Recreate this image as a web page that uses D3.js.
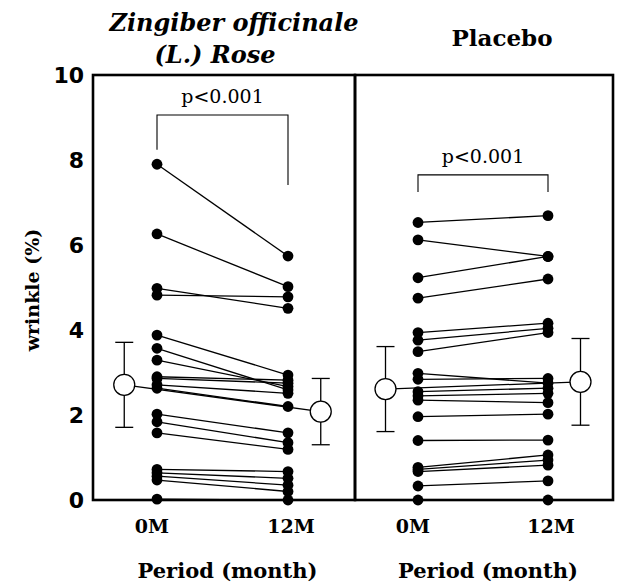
<!DOCTYPE html>
<html>
<head>
<meta charset="utf-8">
<script src="https://cdn.jsdelivr.net/npm/d3@7"></script>
<style>
  body { margin: 0; background: #fff; }
  svg text { fill: #000; }
</style>
</head>
<body>
<svg id="chart" width="617" height="587"></svg>
<script>
// values (wrinkle %)
var periods = ["0M", "12M"];
var groups = ["Zingiber officinale", "Placebo"];

var zingiber0M  = [7.9, 6.26, 4.98, 4.82, 3.88, 3.57, 3.29, 2.9, 2.86, 2.71, 2.63, 2.02, 1.84, 1.58, 0.72, 0.64, 0.56, 0.47, 0.02];
var zingiber12M = [5.74, 5.02, 4.51, 4.78, 2.94, 2.59, 2.67, 2.82, 2.75, 2.51, 2.2, 1.58, 1.35, 1.19, 0.67, 0.51, 0.35, 0.2, 0];

var placebo0M  = [6.53, 6.12, 5.23, 4.75, 3.94, 3.76, 3.49, 2.98, 2.84, 2.55, 2.45, 2.35, 1.96, 1.4, 0.77, 0.72, 0.67, 0.33, 0];
var placebo12M = [6.69, 5.73, 5.73, 5.2, 4.16, 4.04, 3.94, 2.75, 2.86, 2.63, 2.51, 2.29, 2.02, 1.41, 1.06, 0.94, 0.82, 0.45, 0];

// mean and SD per group, [0M, 12M]
var zingiberMean = [2.71, 2.08];
var zingiberSD   = [1.0, 0.78];
var placeboMean  = [2.61, 2.78];
var placeboSD    = [1.0, 1.02];

var yTicks = [0, 2, 4, 6, 8, 10];
var pLabel = "p<0.001";
// bracket levels [left leg end, right leg end, top]
var zingiberBracket = [8.24, 7.41, 9.06];
var placeboBracket  = [7.25, 7.25, 7.65];

var svg = d3.select("#chart");
var top_ = 75, bottom = 500;
var serif = "DejaVu Serif";

var y = d3.scaleLinear().domain([0, 10]).range([bottom, top_]);

var panels = [
  { pre: zingiber0M, post: zingiber12M, mean: zingiberMean, sd: zingiberSD,
    bracket: zingiberBracket, frame: [93, 355], x: d3.scaleLinear().domain([0, 1]).range([157, 288]) },
  { pre: placebo0M, post: placebo12M, mean: placeboMean, sd: placeboSD,
    bracket: placeboBracket, frame: [355, 613], x: d3.scaleLinear().domain([0, 1]).range([418, 548]) }
];

var meanOffset = 0.25; // means sit outside the point columns

panels.forEach(function(p) {
  var g = svg.append("g");
  var x = p.x;
  var pairs = p.pre.map(function(v, i) { return [v, p.post[i]]; });

  // frame
  g.append("rect")
    .attr("x", p.frame[0]).attr("y", top_)
    .attr("width", p.frame[1] - p.frame[0]).attr("height", bottom - top_)
    .attr("fill", "none").attr("stroke", "#000").attr("stroke-width", 2.6);

  // subject lines
  g.selectAll("line.pair").data(pairs).enter().append("line")
    .attr("x1", x(0)).attr("x2", x(1))
    .attr("y1", function(d) { return y(d[0]); })
    .attr("y2", function(d) { return y(d[1]); })
    .attr("stroke", "#000").attr("stroke-width", 1.3);

  // mean line
  g.append("line")
    .attr("x1", x(-meanOffset)).attr("x2", x(1 + meanOffset))
    .attr("y1", y(p.mean[0])).attr("y2", y(p.mean[1]))
    .attr("stroke", "#000").attr("stroke-width", 1.3);

  // error bars
  p.mean.forEach(function(m, i) {
    var cx = x(i === 0 ? -meanOffset : 1 + meanOffset);
    var eb = g.append("g").attr("stroke", "#000").attr("stroke-width", 1.3);
    eb.append("line").attr("x1", cx).attr("x2", cx)
      .attr("y1", y(m - p.sd[i])).attr("y2", y(m + p.sd[i]));
    [m - p.sd[i], m + p.sd[i]].forEach(function(v) {
      eb.append("line").attr("x1", cx - 9).attr("x2", cx + 9)
        .attr("y1", y(v)).attr("y2", y(v));
    });
  });

  // dots
  [p.pre, p.post].forEach(function(vals, i) {
    g.selectAll(null).data(vals).enter().append("circle")
      .attr("cx", x(i)).attr("cy", function(d) { return y(d); })
      .attr("r", 5.4).attr("fill", "#000");
  });

  // mean circles
  p.mean.forEach(function(m, i) {
    g.append("circle")
      .attr("cx", x(i === 0 ? -meanOffset : 1 + meanOffset)).attr("cy", y(m))
      .attr("r", 10.5).attr("fill", "#fff")
      .attr("stroke", "#000").attr("stroke-width", 1.3);
  });

  // significance bracket
  var b = p.bracket;
  g.append("path")
    .attr("d", "M" + x(0) + "," + y(b[0]) + "V" + y(b[2]) + "H" + x(1) + "V" + y(b[1]))
    .attr("fill", "none").attr("stroke", "#000").attr("stroke-width", 1.1);
  g.append("text")
    .attr("x", (x(0) + x(1)) / 2).attr("y", y(b[2]) - 12)
    .attr("text-anchor", "middle")
    .style("font-family", serif).style("font-size", "19px")
    .text(pLabel);

  // period labels
  periods.forEach(function(lbl, i) {
    g.append("text")
      .attr("x", x(i) + (i === 0 ? -5 : 3)).attr("y", 533)
      .attr("text-anchor", "middle")
      .style("font-family", serif).style("font-weight", "bold").style("font-size", "19px")
      .text(lbl);
  });

  g.append("text")
    .attr("x", (x(0) + x(1)) / 2 + 5).attr("y", 578)
    .attr("text-anchor", "middle")
    .style("font-family", serif).style("font-weight", "bold").style("font-size", "21px")
    .text("Period (month)");
});

// y axis
var yAxis = d3.axisLeft(y).tickValues(yTicks).tickSize(0).tickPadding(9);
var ax = svg.append("g").attr("transform", "translate(93,0)").call(yAxis);
ax.select(".domain").remove();
ax.selectAll("text")
  .style("font-family", "DejaVu Sans").style("font-weight", "bold").style("font-size", "22px");

svg.append("text")
  .attr("transform", "translate(39,290) rotate(-90)")
  .attr("text-anchor", "middle")
  .style("font-family", serif).style("font-weight", "bold").style("font-size", "19px")
  .text("wrinkle (%)");

// group titles
svg.append("text")
  .attr("x", 234).attr("y", 31)
  .attr("text-anchor", "middle")
  .style("font-family", serif).style("font-weight", "bold").style("font-style", "italic").style("font-size", "24px")
  .text(groups[0]);
svg.append("text")
  .attr("x", 215).attr("y", 63)
  .attr("text-anchor", "middle")
  .style("font-family", serif).style("font-weight", "bold").style("font-style", "italic").style("font-size", "24px")
  .text("(L.) Rose");
svg.append("text")
  .attr("x", 502).attr("y", 46)
  .attr("text-anchor", "middle")
  .style("font-family", serif).style("font-weight", "bold").style("font-size", "23px")
  .text(groups[1]);
</script>
</body>
</html>
